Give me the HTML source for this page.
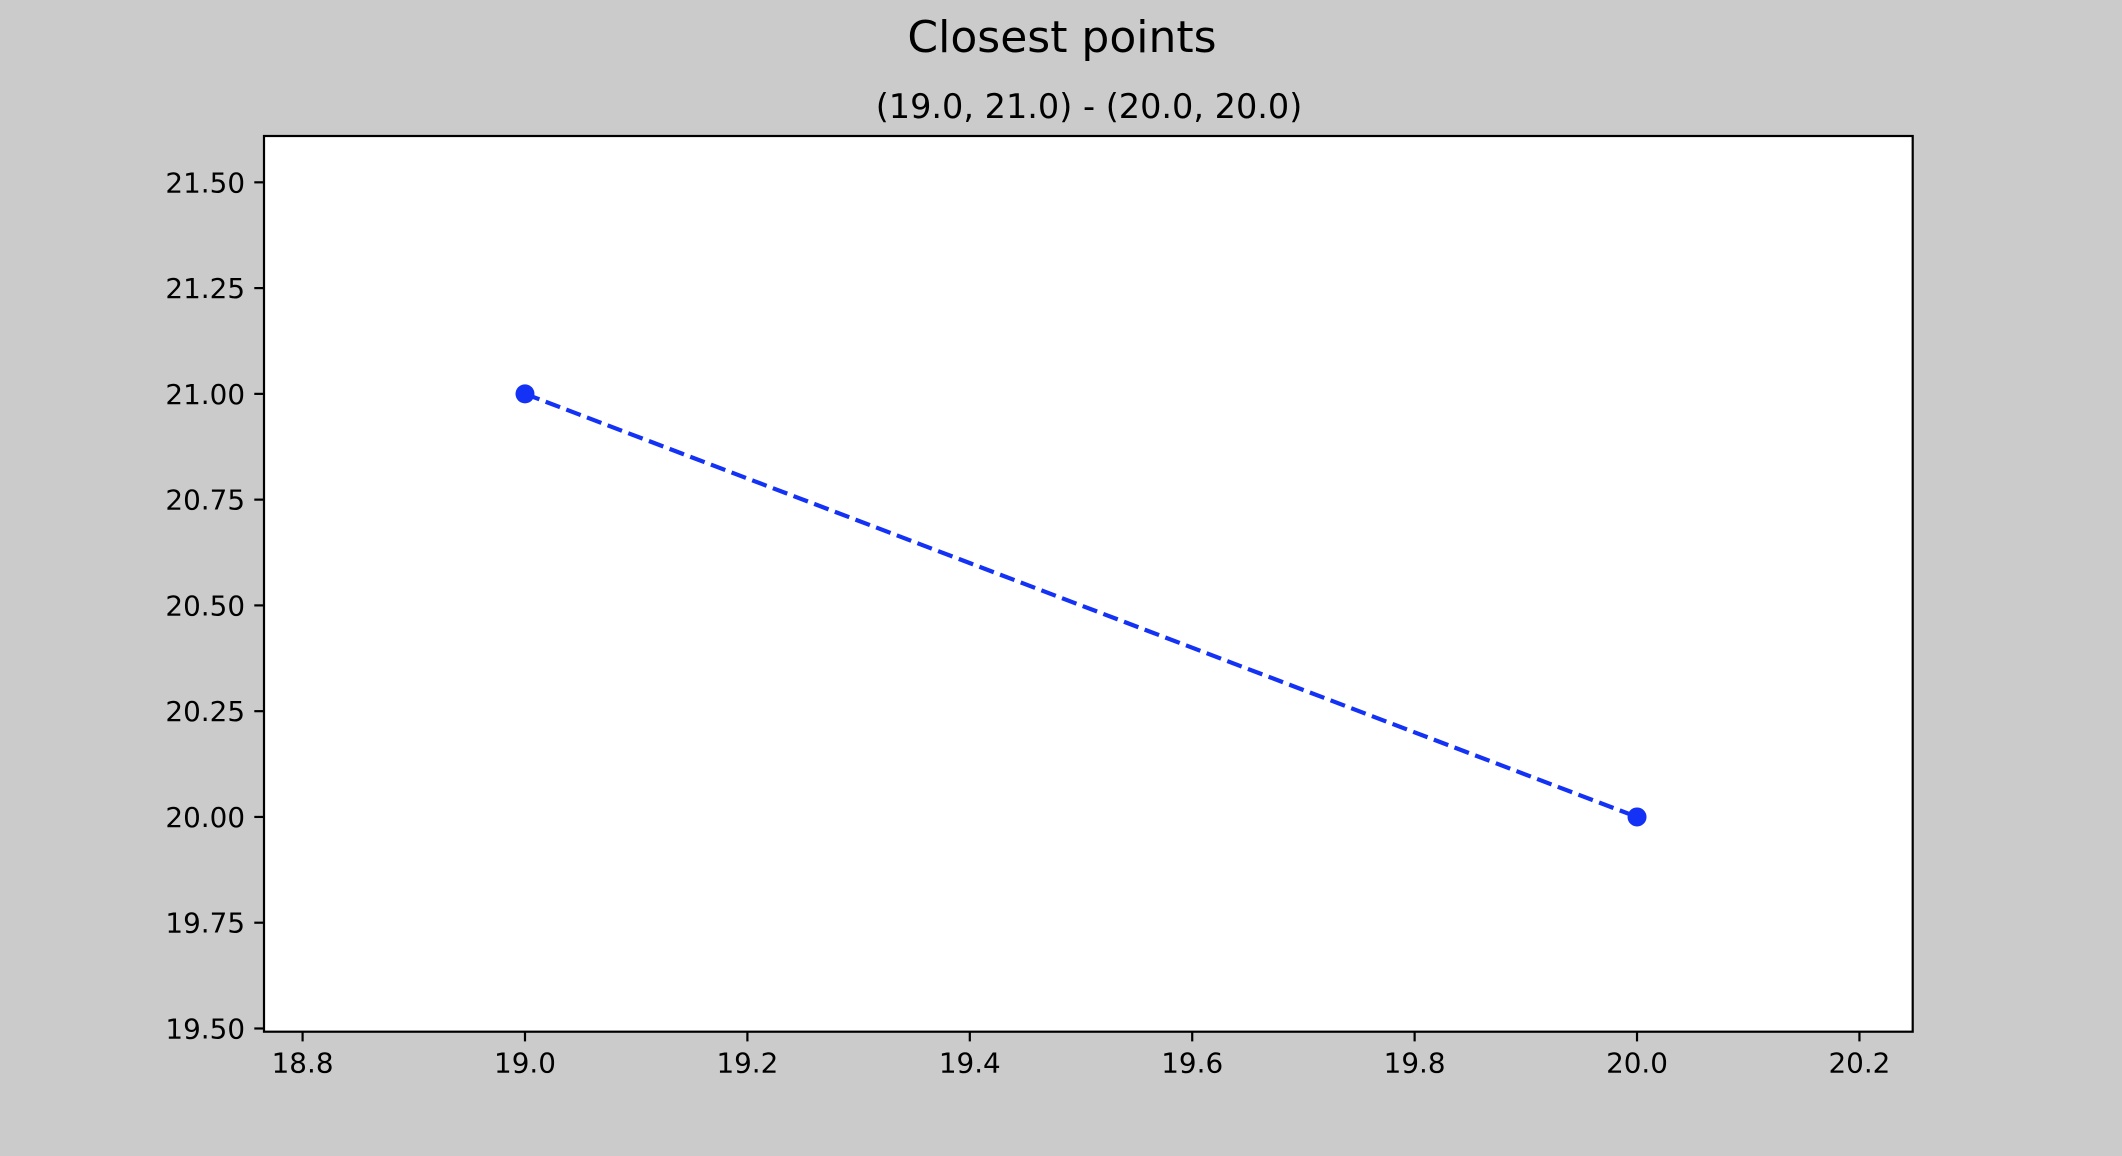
<!DOCTYPE html>
<html><head><meta charset="utf-8"><style>
html,body{margin:0;padding:0;background:#cbcbcb;}
svg{display:block;font-family:"DejaVu Sans","Liberation Sans",sans-serif;}
</style></head><body>
<svg id="chart" width="2122" height="1156" viewBox="0 0 2122 1156">
<rect x="0" y="0" width="2122" height="1156" fill="#cbcbcb"/>
<text x="1062" y="52" font-size="44" text-anchor="middle" fill="#000">Closest points</text>
<text x="1089" y="118" font-size="33.5" text-anchor="middle" fill="#000">(19.0, 21.0) - (20.0, 20.0)</text>
<rect x="264" y="136" width="1648.7" height="895.7" fill="#fff"/>
<g id="ticks"></g>
<g id="marks"></g>
<rect x="264" y="136" width="1648.7" height="895.7" fill="none" stroke="#000" stroke-width="2.2"/>
</svg>
<script>
const xs = [19.0, 20.0];
const ys = [21.0, 20.0];
const xTicks = [18.8, 19.0, 19.2, 19.4, 19.6, 19.8, 20.0, 20.2];
const xTickLabels = ["18.8","19.0","19.2","19.4","19.6","19.8","20.0","20.2"];
const yTicks = [19.5, 19.75, 20.0, 20.25, 20.5, 20.75, 21.0, 21.25, 21.5];
const yTickLabels = ["19.50","19.75","20.00","20.25","20.50","20.75","21.00","21.25","21.50"];

const L=264, R=1912.7, T=136, B=1031.7;
const xMin=18.7653, xMax=20.2479, yMin=19.4924, yMax=21.6095;
const sx = v => L + (v-xMin)/(xMax-xMin)*(R-L);
const sy = v => B - (v-yMin)/(yMax-yMin)*(B-T);
const NS='http://www.w3.org/2000/svg';
function mk(tag, attrs){const e=document.createElementNS(NS,tag);for(const k in attrs)e.setAttribute(k,attrs[k]);return e;}
const tg=document.getElementById('ticks');
xTicks.forEach((v,i)=>{
  const x=sx(v);
  const t=mk('line',{x1:x,x2:x,y1:B,y2:B+9.7,stroke:'#000','stroke-width':2.2});
  
  
  tg.appendChild(t);
  const l=mk('text',{x:x,y:B+41,'font-size':27.8,'text-anchor':'middle',fill:'#000'});
  l.textContent=xTickLabels[i];
  
  
  tg.appendChild(l);
});
yTicks.forEach((v,i)=>{
  const y=sy(v);
  const t=mk('line',{x1:L-9.7,x2:L,y1:y,y2:y,stroke:'#000','stroke-width':2.2});
  
  
  tg.appendChild(t);
  const l=mk('text',{x:L-19,y:y+10,'font-size':27.8,'text-anchor':'end',fill:'#000'});
  l.textContent=yTickLabels[i];
  
  
  tg.appendChild(l);
});
const mg=document.getElementById('marks');
const pts=xs.map((x,i)=>sx(x)+','+sy(ys[i])).join(' ');
const line=mk('polyline',{points:pts,fill:'none',stroke:'#1432f5','stroke-width':4.2,'stroke-dasharray':'15.4 6.7'});


mg.appendChild(line);
xs.forEach((x,i)=>{
  const c=mk('circle',{cx:sx(x),cy:sy(ys[i]),r:9.5,fill:'#1432f5'});
  
  
  mg.appendChild(c);
});
</script>
</body></html>
